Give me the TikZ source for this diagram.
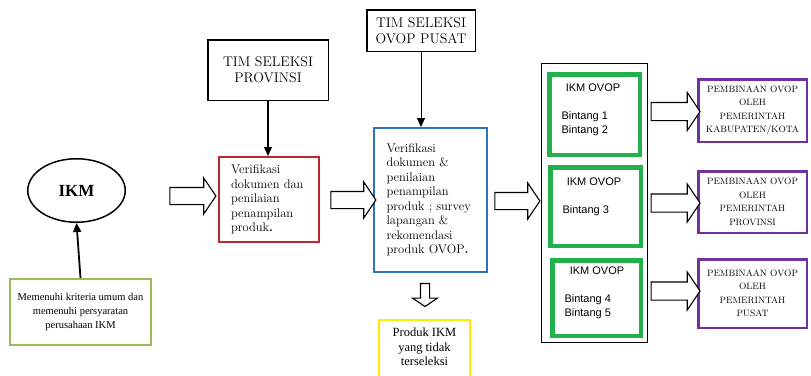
\documentclass[tikz,border=0pt]{standalone}
\usepackage{fontspec}
\newfontfamily\timesfont{Liberation Serif}
\newfontfamily\arialfont{Liberation Sans}
\usetikzlibrary{
    arrows.meta,
    positioning,
    shapes.geometric,
    shapes.arrows
}

\definecolor{provred}{RGB}{192,38,45}
\definecolor{pusatblue}{RGB}{46,117,182}
\definecolor{ovopgreen}{RGB}{34,177,76}
\definecolor{syaratgreen}{RGB}{155,187,89}
\definecolor{tolakyellow}{RGB}{255,236,0}
\definecolor{binapurple}{RGB}{112,48,160}

\begin{document}
\begin{tikzpicture}[x=1pt,y=-1pt,
    timbox/.style={draw,line width=1.5pt,align=center,inner sep=0pt,font=\fontsize{14}{16}\selectfont},
    verbox/.style={draw,line width=2pt,align=left,inner sep=0pt,font=\fontsize{12.5}{14.5}\selectfont},
    ovopbox/.style={draw=ovopgreen,line width=4.5pt,inner sep=0pt},
    binabox/.style={draw=binapurple,line width=2.5pt,align=center,inner sep=0pt,
        minimum width=108.5,font=\fontsize{9.2}{13.5}\selectfont},
    hollow/.style={single arrow,draw,line width=1.1pt,fill=white,inner xsep=0pt,
        single arrow tip angle=112,minimum height=#1},
    thinarrow/.style={-{Triangle[length=9pt,width=8pt]},line width=1.3pt}
]
\useasboundingbox (0,0) rectangle (811,375);

% IKM dan syarat
\node[ellipse,draw,line width=1.5pt,minimum width=97.5,minimum height=63.5,
    font=\timesfont\bfseries\fontsize{17}{20}\selectfont] (ikm) at (76.5,190.5) {IKM};
\node[draw=syaratgreen,line width=2pt,minimum width=141,minimum height=66,align=center,
    font=\timesfont\fontsize{10.5}{14}\selectfont] (syarat) at (80.5,312)
    {Memenuhi kriteria umum dan\\memenuhi persyaratan\\perusahaan IKM};
\draw[thinarrow,line width=1.8pt] (syarat.north) -- (ikm.south);

% Seleksi provinsi
\node[timbox,minimum width=120.5,minimum height=60.5] (timprov) at (268,70)
    {TIM SELEKSI\\PROVINSI};
\node[verbox,draw=provred,minimum width=100,minimum height=85,text width=76] (verprov)
    at (269,199.5)
    {Verifikasi\\dokumen dan\\penilaian\\penampilan\\produk\textbf{.}};
\draw[thinarrow] (timprov.south) -- (timprov.south |- verprov.north);

% Seleksi pusat
\node[timbox,minimum width=108.5,minimum height=41.5] (timpusat) at (421,30.5)
    {TIM SELEKSI\\OVOP PUSAT};
\node[verbox,draw=pusatblue,minimum width=113,minimum height=144,text width=88] (verpusat)
    at (430.5,200)
    {Verifikasi\\dokumen \&\\penilaian\\penampilan\\produk ; survey\\lapangan \&\\rekomendasi\\produk OVOP\textbf{.}};
\draw[thinarrow,line width=1pt] (timpusat.south) -- (timpusat.south |- verpusat.north);

\node[draw=tolakyellow,line width=2pt,minimum width=91,minimum height=70,anchor=north,
    align=center,text depth=16pt,font=\timesfont\fontsize{12.5}{14.5}\selectfont] (tolak)
    at (424.5,319) {Produk IKM\\yang tidak\\terseleksi};

% IKM OVOP
\node[draw,line width=1.5pt,minimum width=106,minimum height=279,inner sep=0pt] (frame)
    at (594.5,203) {};
\node[ovopbox,minimum width=90.5,minimum height=80.5] (ovop1) at (594.5,114.5) {};
\node[ovopbox,minimum width=90.5,minimum height=78.5] (ovop2) at (595.5,206.5) {};
\node[ovopbox,minimum width=88.5,minimum height=75.5] (ovop3) at (596.5,298) {};

\begin{scope}[font=\arialfont\fontsize{11}{14}\selectfont]
\node (judul1) at (593,88) {IKM OVOP};
\node[anchor=west,align=left] (bintang1) at (558,124) {Bintang 1\\Bintang 2};
\node (judul2) at (594,182) {IKM OVOP};
\node[anchor=west] (bintang2) at (559,211) {Bintang 3};
\node (judul3) at (597,271) {IKM OVOP};
\node[anchor=west,align=left] (bintang3) at (561,306.5) {Bintang 4\\Bintang 5};
\end{scope}

% Pembinaan
\node[binabox,minimum height=62.5] (bina1) at (752.5,110.5)
    {PEMBINAAN OVOP\\OLEH\\PEMERINTAH\\KABUPATEN/KOTA};
\node[binabox,minimum height=61.5] (bina2) at (752.5,202)
    {PEMBINAAN OVOP\\OLEH\\PEMERINTAH\\PROVINSI};
\node[binabox,minimum height=68.5] (bina3) at (752.5,293.5)
    {PEMBINAAN OVOP\\OLEH\\PEMERINTAH\\PUSAT};

% Panah besar
\node[hollow=46,inner ysep=8pt,single arrow head extend=9.5pt] (panah1) at (190,196) {};
\node[hollow=45,inner ysep=8pt,single arrow head extend=9.5pt] (panah2) at (350.5,200) {};
\node[hollow=45,inner ysep=8pt,single arrow head extend=9.5pt] (panah3) at (514.5,201) {};
\node[hollow=23,inner ysep=0pt,inner xsep=4pt,single arrow head extend=8pt,
    shape border rotate=270] (panah4) at (425,293.5) {};
\node[hollow=49,inner ysep=8.5pt,single arrow head extend=10pt] (panah5) at (672.5,111.5) {};
\node[hollow=49,inner ysep=8.5pt,single arrow head extend=10pt] (panah6) at (672.5,203) {};
\node[hollow=49,inner ysep=8.5pt,single arrow head extend=10pt] (panah7) at (672.5,291) {};

\end{tikzpicture}
\end{document}
